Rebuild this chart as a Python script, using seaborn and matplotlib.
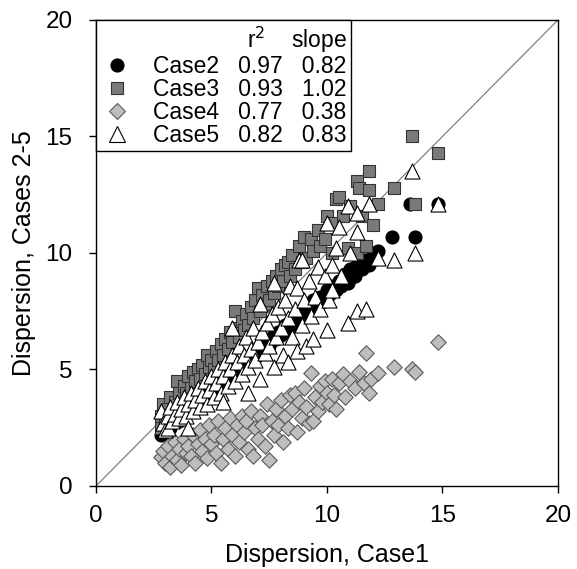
import numpy as np
import pandas as pd
import seaborn as sns
import matplotlib.pyplot as plt
from matplotlib.lines import Line2D

# values
case2_x = [2.8, 2.9, 3.0, 3.1, 3.2, 3.3, 3.5, 3.6, 3.8, 3.9, 4.0, 4.2, 4.3, 4.5, 4.6, 4.8, 4.9, 5.0,
           5.2, 5.3, 5.5, 5.6, 5.8, 5.9, 6.0, 6.2, 6.3, 6.5, 6.6, 6.8, 6.9, 7.0, 7.2, 7.3, 7.5, 7.6,
           7.8, 7.9, 8.0, 8.2, 8.3, 8.5, 8.6, 8.8, 8.9, 9.0, 9.1, 9.3, 9.4, 9.5, 9.7, 9.8, 10.0, 10.1,
           10.2, 10.4, 10.5, 10.6, 10.8, 10.9, 11.0, 11.2, 11.3, 11.5, 11.6, 11.8, 12.0, 12.2, 12.8,
           13.6, 13.8, 14.8]
case2_y = [2.2, 2.4, 2.3, 2.6, 2.5, 2.8, 2.9, 2.8, 3.2, 3.1, 3.4, 3.3, 3.6, 3.7, 3.6, 4.0, 3.9, 4.2,
           4.1, 4.5, 4.4, 4.7, 4.6, 5.0, 4.8, 5.2, 5.0, 5.4, 5.3, 5.7, 5.5, 5.9, 5.8, 6.1, 6.0, 6.4,
           6.3, 6.6, 6.5, 6.9, 6.7, 7.2, 6.9, 7.0, 7.5, 7.3, 7.6, 7.5, 8.0, 7.7, 8.1, 7.9, 8.4, 8.2,
           8.6, 8.4, 8.8, 8.6, 9.1, 8.7, 9.3, 9.0, 9.5, 9.3, 9.7, 9.5, 10.0, 10.1, 10.7,
           12.1, 10.7, 12.1]

case3_x = [2.8, 2.8, 2.9, 3.0, 3.1, 3.2, 3.3, 3.4, 3.5, 3.6, 3.7, 3.8, 3.9, 4.0, 4.1, 4.2, 4.3, 4.4,
           4.5, 4.6, 4.7, 4.8, 4.9, 5.0, 5.1, 5.2, 5.3, 5.4, 5.5, 5.6, 5.7, 5.8, 5.9, 6.0, 6.1, 6.2,
           6.3, 6.4, 6.5, 6.6, 6.7, 6.8, 6.9, 7.0, 7.1, 7.2, 7.3, 7.4, 7.5, 7.6, 7.7, 7.8, 7.9, 8.0,
           8.1, 8.2, 8.3, 8.4, 8.5, 8.6, 8.8, 8.9, 9.0, 9.1, 9.3, 9.4, 9.6, 9.7, 9.9, 10.0, 10.2,
           10.3, 10.4, 10.5, 10.7, 10.9, 11.0, 11.3, 11.3, 11.4, 11.5, 11.7, 11.8, 11.8, 12.0, 12.2,
           12.9, 13.7, 13.8, 14.8]
case3_y = [2.5, 3.0, 3.5, 2.8, 3.3, 3.8, 3.1, 3.6, 4.5, 4.0, 3.5, 4.3, 4.0, 4.7, 4.2, 4.9, 4.5, 5.0,
           4.6, 5.2, 4.8, 5.6, 5.1, 5.4, 5.0, 5.8, 5.4, 6.1, 5.6, 6.3, 5.9, 6.6, 6.2, 7.5, 6.8, 6.4,
           7.1, 6.7, 7.4, 6.9, 7.7, 7.2, 8.0, 8.5, 7.5, 8.2, 7.8, 8.6, 8.0, 8.8, 8.3, 9.0, 8.6, 9.3,
           8.8, 9.5, 9.6, 9.0, 9.9, 9.3, 10.3, 9.6, 10.7, 9.8, 10.6, 10.1, 11.0, 10.3, 10.6, 11.6, 10.0,
           11.3, 12.3, 12.4, 11.6, 10.2, 12.0, 13.1, 10.0, 12.8, 11.6, 10.3, 13.5, 12.7, 11.2, 12.1,
           12.8, 15.0, 12.1, 14.3]

case4_x = [2.8, 2.9, 3.0, 3.1, 3.2, 3.3, 3.4, 3.5, 3.6, 3.7, 3.8, 3.9, 4.0, 4.1, 4.2, 4.3, 4.4, 4.5,
           4.6, 4.7, 4.8, 4.9, 5.0, 5.1, 5.2, 5.3, 5.4, 5.5, 5.6, 5.7, 5.8, 5.9, 6.0, 6.1, 6.2, 6.3,
           6.4, 6.5, 6.6, 6.7, 6.8, 6.9, 7.0, 7.1, 7.2, 7.3, 7.4, 7.5, 7.6, 7.7, 7.8, 7.9, 8.0, 8.1,
           8.2, 8.3, 8.4, 8.5, 8.6, 8.7, 8.8, 8.9, 9.0, 9.1, 9.2, 9.3, 9.4, 9.5, 9.6, 9.7, 9.8, 9.9,
           10.0, 10.1, 10.2, 10.3, 10.4, 10.5, 10.7, 10.8, 11.0, 11.2, 11.4, 11.6, 11.7, 11.8, 11.9,
           12.2, 12.9, 13.7, 13.8, 14.8]
case4_y = [1.25, 1.5, 1.0, 1.7, 0.8, 1.3, 1.9, 1.1, 1.6, 0.9, 2.0, 1.4, 1.7, 1.3, 2.2, 1.0, 1.8, 2.4,
           1.5, 2.0, 1.2, 2.6, 1.8, 2.2, 1.4, 2.8, 1.0, 2.0, 2.5, 1.6, 2.9, 2.2, 1.3, 2.6, 1.9, 3.0,
           2.3, 2.8, 1.6, 3.2, 1.3, 2.5, 2.0, 3.0, 2.6, 1.7, 3.5, 1.1, 2.8, 2.2, 3.3, 2.6, 3.7, 1.9,
           3.0, 2.5, 3.9, 3.3, 4.0, 2.3, 3.6, 2.9, 4.2, 3.4, 2.7, 4.85, 2.8, 3.8, 3.2, 4.3, 3.6, 4.5,
           4.0, 3.5, 4.6, 3.9, 3.3, 4.4, 4.8, 3.8, 4.5, 4.2, 4.9, 4.4, 5.7, 4.0, 4.6,
           4.85, 5.1, 5.0, 4.9, 6.2]

case5_x = [2.8, 2.9, 3.0, 3.1, 3.1, 3.2, 3.3, 3.4, 3.5, 3.6, 3.7, 3.8, 3.9, 4.0, 4.0, 4.1, 4.2, 4.3,
           4.4, 4.5, 4.6, 4.7, 4.8, 4.9, 5.0, 5.1, 5.2, 5.3, 5.4, 5.5, 5.5, 5.6, 5.7, 5.8, 5.9, 5.9,
           6.0, 6.1, 6.2, 6.3, 6.4, 6.5, 6.6, 6.6, 6.7, 6.8, 6.9, 7.0, 7.1, 7.1, 7.2, 7.3, 7.4, 7.5,
           7.6, 7.7, 7.7, 7.8, 7.9, 8.0, 8.1, 8.2, 8.3, 8.3, 8.4, 8.5, 8.6, 8.7, 8.7, 8.8, 8.9, 8.9,
           9.0, 9.1, 9.2, 9.3, 9.4, 9.5, 9.6, 9.7, 9.9, 10.0, 10.0, 10.1, 10.2, 10.2, 10.4, 10.5,
           10.6, 10.9, 10.9, 11.0, 11.3, 11.3, 11.3, 11.7, 11.8, 12.2, 12.9, 13.7, 13.8, 14.8]
case5_y = [3.2, 2.7, 2.4, 3.0, 2.5, 3.4, 2.8, 3.1, 3.6, 2.9, 3.3, 3.8, 3.0, 2.5, 3.5, 4.0, 3.2, 3.7,
           4.2, 3.4, 3.9, 4.5, 3.5, 4.1, 4.7, 3.8, 4.4, 5.0, 4.0, 3.6, 4.7, 5.3, 4.3, 5.0, 6.8, 5.6,
           4.5, 5.3, 6.0, 4.8, 5.6, 6.4, 4.0, 5.1, 5.9, 6.8, 5.4, 6.2, 7.8, 4.6, 6.6, 5.7, 7.0, 6.0,
           7.4, 8.7, 5.1, 6.4, 7.7, 6.8, 5.6, 8.0, 5.3, 7.2, 8.6, 6.4, 7.6, 8.5, 5.8, 9.7, 9.7, 6.9,
           8.0, 6.0, 8.8, 7.3, 6.3, 8.1, 9.4, 7.6, 9.0, 11.3, 6.7, 8.0, 9.5, 8.4, 10.2, 11.1,
           9.0, 12.0, 7.0, 10.0, 11.7, 10.9, 7.5, 7.6, 12.1, 9.8, 9.7, 13.5, 10.0, 12.1]

labels = ['Case2', 'Case3', 'Case4', 'Case5']
r2 = ['0.97', '0.93', '0.77', '0.82']
slopes = ['0.82', '1.02', '0.38', '0.83']

sns.set_style('ticks')
plt.rcParams['font.family'] = ['Liberation Sans', 'DejaVu Sans']
plt.rcParams['text.color'] = 'black'
plt.rcParams['axes.labelcolor'] = 'black'
plt.rcParams['xtick.color'] = 'black'
plt.rcParams['ytick.color'] = 'black'

fig = plt.figure(figsize=(5.77, 5.69), dpi=100)
ax = fig.add_axes([0.1664, 0.1459, 0.8006, 0.8190])

# 1:1 line
ax.axline((0, 0), slope=1, color='#808080', lw=0.9, zorder=1)

# marker styles: (marker, face, edge, size)
styles = [('o', 'black', 'black', 88),
          ('s', '#7a7a7a', '#333333', 78),
          ('D', '#bdbdbd', '#5a5a5a', 62),
          ('^', 'white', 'black', 118)]
xs = [case2_x, case3_x, case4_x, case5_x]
ys = [case2_y, case3_y, case4_y, case5_y]

for i in range(4):
    m, fc, ec, s = styles[i]
    df = pd.DataFrame({'x': xs[i], 'y': ys[i]})
    sns.scatterplot(data=df, x='x', y='y', ax=ax, marker=m, color=fc,
                    edgecolor=ec, linewidth=0.8, s=s, zorder=2 + i)

ax.set_xlim(0, 20)
ax.set_ylim(0, 20)
ax.set_xticks([0, 5, 10, 15, 20])
ax.set_yticks([0, 5, 10, 15, 20])
ax.tick_params(direction='out', length=5, width=1, labelsize=17.5, color='black',
               labelcolor='black', top=False, right=False)
ax.tick_params(axis='x', pad=9)
ax.tick_params(axis='y', pad=12)
for sp in ax.spines.values():
    sp.set_color('black')
    sp.set_linewidth(1)
ax.set_xlabel('Dispersion, Case1', fontsize=18, labelpad=11)
ax.set_ylabel('Dispersion, Cases 2-5', fontsize=18, labelpad=7)

# legend with r2 / slope columns
handles = []
for m, fc, ec, s in styles:
    handles.append(Line2D([], [], ls='', marker=m, markerfacecolor=fc,
                          markeredgecolor=ec, markeredgewidth=0.8, markersize=np.sqrt(s)))
leg_labels = [labels[i] + '   ' + r2[i] + '   ' + slopes[i] for i in range(4)]
leg = ax.legend(handles, leg_labels, loc='upper left', bbox_to_anchor=(0, 1),
                borderaxespad=0, fancybox=False, edgecolor='black', framealpha=1,
                fontsize=16.5, title='r$^2$    slope', title_fontsize=16.5,
                alignment='right', handlelength=1.4, handletextpad=0.9,
                labelspacing=0.0, borderpad=0.2)
leg.get_frame().set_linewidth(1)
leg.set_zorder(10)

fig.savefig('out.png', dpi=100)
